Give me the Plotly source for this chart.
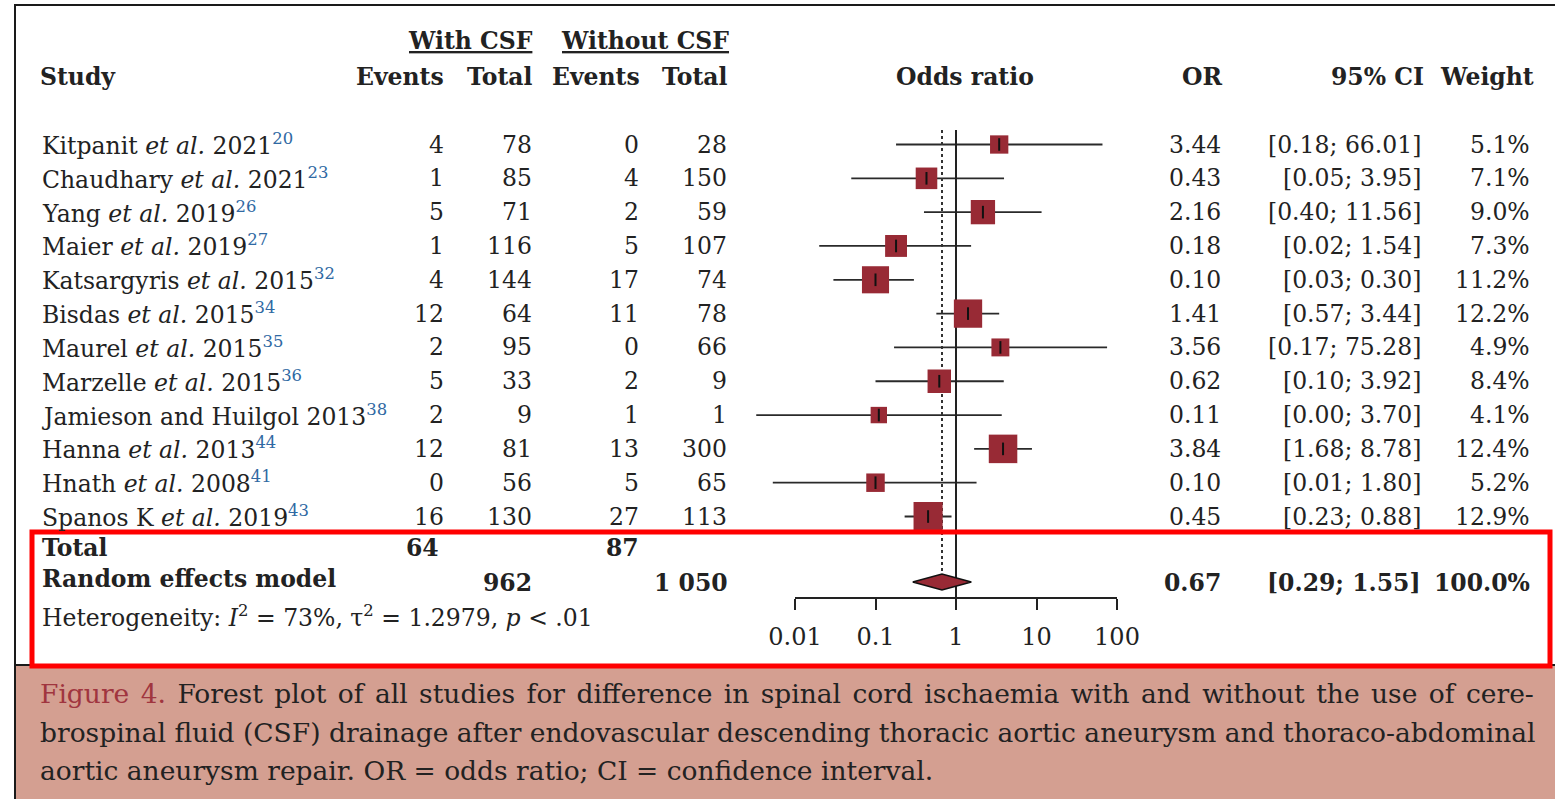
import math
import plotly.graph_objects as go

# ---------------- data ----------------
study_names = ["Kitpanit", "Chaudhary", "Yang", "Maier", "Katsargyris", "Bisdas",
               "Maurel", "Marzelle", "Jamieson and Huilgol", "Hanna", "Hnath", "Spanos K"]
et_al = [True, True, True, True, True, True, True, True, False, True, True, True]
years = [2021, 2021, 2019, 2019, 2015, 2015, 2015, 2015, 2013, 2013, 2008, 2019]
refs = [20, 23, 26, 27, 32, 34, 35, 36, 38, 44, 41, 43]
events_csf = [4, 1, 5, 1, 4, 12, 2, 5, 2, 12, 0, 16]
total_csf = [78, 85, 71, 116, 144, 64, 95, 33, 9, 81, 56, 130]
events_no = [0, 4, 2, 5, 17, 11, 0, 2, 1, 13, 5, 27]
total_no = [28, 150, 59, 107, 74, 78, 66, 9, 1, 300, 65, 113]
odds_ratio = [3.44, 0.43, 2.16, 0.18, 0.10, 1.41, 3.56, 0.62, 0.11, 3.84, 0.10, 0.45]
ci_low = [0.18, 0.05, 0.40, 0.02, 0.03, 0.57, 0.17, 0.10, 0.0033, 1.68, 0.0053, 0.23]
ci_high = [66.01, 3.95, 11.56, 1.54, 0.30, 3.44, 75.28, 3.92, 3.70, 8.78, 1.80, 0.88]
weights = [5.1, 7.1, 9.0, 7.3, 11.2, 12.2, 4.9, 8.4, 4.1, 12.4, 5.2, 12.9]

sum_events_csf = 64
sum_events_no = 87
sum_total_csf = "962"
sum_total_no = "1 050"
pooled_or = 0.67
pooled_low = 0.29
pooled_high = 1.55
pooled_weight = 100.0
het_text = "Heterogeneity: <i>I</i><sup>2</sup> = 73%, τ<sup>2</sup> = 1.2979, <i>p</i> &lt; .01"

tick_vals = [0.01, 0.1, 1, 10, 100]
tick_text = ["0.01", "0.1", "1", "10", "100"]

caption_lines = [
    "<span style='word-spacing:3px'><span style='color:#a0353f'>Figure 4.</span> Forest plot of all studies for difference in spinal cord ischaemia with and without the use of cere-</span>",
    "brospinal fluid (CSF) drainage after endovascular descending thoracic aortic aneurysm and thoraco-abdominal",
    "aortic aneurysm repair. OR = odds ratio; CI = confidence interval.",
]

# ---------------- layout constants ----------------
W, H = 1555, 799
FONT = "DejaVu Serif"
TXT = "#222222"
SQ = "#982a35"
FS = 23.5
row0, drow = 144.5, 33.82
rows = [row0 + i * drow for i in range(len(study_names))]
y_total, y_random, y_het = 548, 583, 616
y_axis_px = 598
px_dec = 80.5
x_one_px = 956
lx = lambda px: (px - x_one_px) / px_dec  # pixel -> log10 value

fig = go.Figure()

# CI lines
cx, cy = [], []
for lo, hi, y in zip(ci_low, ci_high, rows):
    cx += [lo, hi, None]
    cy += [y, y, None]
fig.add_trace(go.Scatter(x=cx, y=cy, mode="lines", line=dict(color="#2a2a2a", width=1.8),
                         xaxis="x", yaxis="y", hoverinfo="skip", showlegend=False))

# vertical reference lines
fig.add_trace(go.Scatter(x=[1, 1], y=[130, y_axis_px], mode="lines",
                         line=dict(color="#222", width=2), xaxis="x", yaxis="y",
                         hoverinfo="skip", showlegend=False))
fig.add_trace(go.Scatter(x=[pooled_or, pooled_or], y=[130, y_random - 9], mode="lines",
                         line=dict(color="#333", width=2, dash="dot"), xaxis="x", yaxis="y",
                         hoverinfo="skip", showlegend=False))

# squares
fig.add_trace(go.Scatter(x=odds_ratio, y=rows, mode="markers",
                         marker=dict(symbol="square", color=SQ, opacity=1,
                                     size=[8.1 * math.sqrt(w) for w in weights], line=dict(width=0)),
                         xaxis="x", yaxis="y", hoverinfo="skip", showlegend=False))
# centre ticks
fig.add_trace(go.Scatter(x=odds_ratio, y=rows, mode="markers",
                         marker=dict(symbol="line-ns", size=9, opacity=1,
                                     line=dict(color="#111", width=2)),
                         xaxis="x", yaxis="y", hoverinfo="skip", showlegend=False))

# diamond
fig.add_trace(go.Scatter(x=[pooled_low, pooled_or, pooled_high, pooled_or, pooled_low],
                         y=[y_random - 1, y_random - 9, y_random - 1, y_random + 7, y_random - 1],
                         mode="lines", fill="toself", fillcolor=SQ,
                         line=dict(color="#111", width=1.5), xaxis="x", yaxis="y",
                         hoverinfo="skip", showlegend=False))

# dummy traces so the helper axes exist
fig.add_trace(go.Scatter(x=[1], y=[-500], mode="markers", marker=dict(opacity=0),
                         xaxis="x3", yaxis="y", hoverinfo="skip", showlegend=False))
fig.add_trace(go.Scatter(x=[0], y=[-500], mode="markers", marker=dict(opacity=0),
                         xaxis="x2", yaxis="y", hoverinfo="skip", showlegend=False))

ann = []


def txt(x, y, s, anchor="right", size=FS, bold=False, color=TXT):
    if bold:
        s = "<b>" + s + "</b>"
    ann.append(dict(x=x, y=y, xref="x2", yref="y", text=s, showarrow=False,
                    xanchor=anchor, yanchor="middle",
                    font=dict(family=FONT, size=size, color=color)))


# headers
txt(535, 41, "<u>With CSF</u>", bold=True)
txt(731, 41, "<u>Without CSF</u>", bold=True)
y_h = 77
txt(38, y_h, "Study", anchor="left", bold=True)
txt(446, y_h, "Events", bold=True)
txt(535, y_h, "Total", bold=True)
txt(642, y_h, "Events", bold=True)
txt(730, y_h, "Total", bold=True)
txt(965, y_h, "Odds ratio", anchor="center", bold=True)
txt(1224, y_h, "OR", bold=True)
txt(1426, y_h, "95% CI", bold=True)
txt(1536, y_h, "Weight", bold=True)

# study rows
for i, y in enumerate(rows):
    label = study_names[i] + (" <i>et al.</i>" if et_al[i] else "") + f" {years[i]}" \
        + f"<sup><span style='color:#2f69a3'>{refs[i]}</span></sup>"
    txt(40, y, label, anchor="left")
    txt(446, y, str(events_csf[i]))
    txt(534, y, str(total_csf[i]))
    txt(641, y, str(events_no[i]))
    txt(729, y, str(total_no[i]))
    txt(1223, y, f"{odds_ratio[i]:.2f}")
    txt(1423, y, f"[{ci_low[i]:.2f}; {ci_high[i]:.2f}]")
    txt(1532, y, f"{weights[i]:.1f}%")

# summary
txt(40, y_total, "Total", anchor="left", bold=True)
txt(441, y_total, str(sum_events_csf), bold=True)
txt(641, y_total, str(sum_events_no), bold=True)
txt(40, y_random - 4, "Random effects model", anchor="left", bold=True)
txt(534, y_random, sum_total_csf, bold=True)
txt(730, y_random, sum_total_no, bold=True)
txt(1223, y_random, f"{pooled_or:.2f}", bold=True)
txt(1423, y_random, f"[{pooled_low:.2f}; {pooled_high:.2f}]", bold=True)
txt(1532, y_random, f"{pooled_weight:.1f}%", bold=True)
txt(40, y_het, het_text, anchor="left")

# caption
for line, y in zip(caption_lines, [693, 732, 770]):
    txt(38, y, line, anchor="left", size=26.5)

shapes = [
    # caption background
    dict(type="rect", xref="x2", yref="y", x0=16, x1=W + 5, y0=665, y1=H + 5,
         fillcolor="#d49f91", line=dict(width=0), layer="below"),
    # outer frame
    dict(type="line", xref="x2", yref="y", x0=15, x1=W + 5, y0=5, y1=5,
         line=dict(color="#1a1a1a", width=2)),
    dict(type="line", xref="x2", yref="y", x0=15, x1=15, y0=4, y1=H + 5,
         line=dict(color="#1a1a1a", width=2)),
    dict(type="line", xref="x2", yref="y", x0=15, x1=W + 5, y0=665, y1=665,
         line=dict(color="#1a1a1a", width=2)),
    # red highlight box
    dict(type="rect", xref="x2", yref="y", x0=32, x1=1550, y0=532, y1=666,
         line=dict(color="#ff0000", width=5), fillcolor="rgba(0,0,0,0)"),
]

fig.update_layout(
    width=W, height=H, margin=dict(l=0, r=0, t=0, b=0, pad=0, autoexpand=False),
    template="none",
    paper_bgcolor="white", plot_bgcolor="rgba(0,0,0,0)",
    showlegend=False, annotations=ann, shapes=shapes,
    xaxis=dict(type="log", domain=[740 / W, 1140 / W], range=[lx(740), lx(1140)],
               visible=False, anchor="y", automargin=False),
    xaxis2=dict(domain=[0, 1], range=[0, W], visible=False, anchor="y", automargin=False),
    xaxis3=dict(type="log", domain=[795 / W, 1117 / W], range=[-2, 2], anchor="free",
                position=1 - y_axis_px / H, showline=True, linecolor="#222", linewidth=2,
                ticks="outside", ticklen=11, tickwidth=2, tickcolor="#222",
                tickvals=tick_vals, ticktext=tick_text, showgrid=False, zeroline=False,
                automargin=False, ticklabelstandoff=6,
                tickfont=dict(family=FONT, size=24, color=TXT)),
    yaxis=dict(domain=[0, 1], range=[H, 0], visible=False, automargin=False),
)

fig.write_html("out.html")
